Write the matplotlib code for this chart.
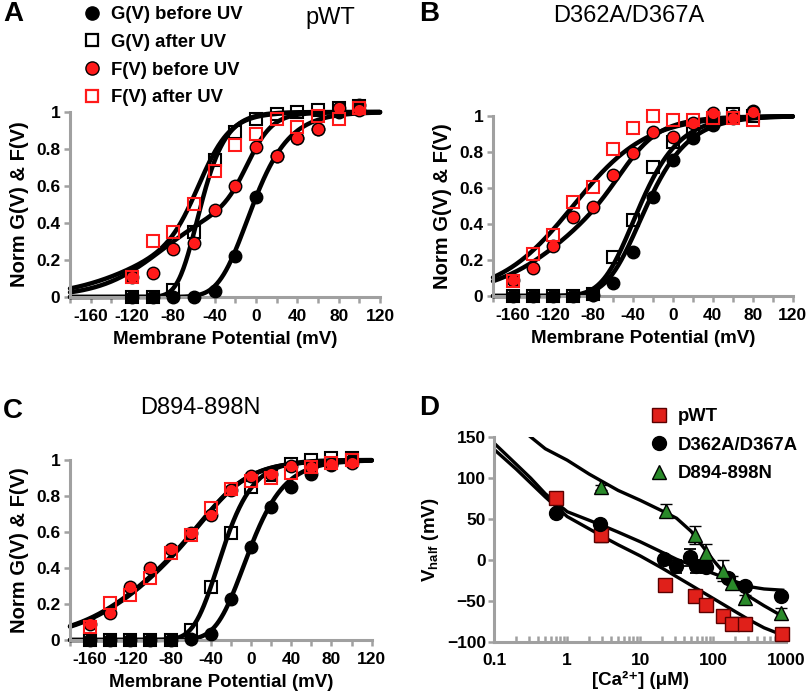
import numpy as np
import matplotlib
matplotlib.use("Agg")
import matplotlib.pyplot as plt
from matplotlib.lines import Line2D
from matplotlib.ticker import MultipleLocator, NullFormatter, LogLocator

plt.rcParams['font.family'] = ['Liberation Sans', 'DejaVu Sans']
plt.rcParams['mathtext.fontset'] = 'custom'
plt.rcParams['mathtext.rm'] = 'Liberation Sans:bold'
plt.rcParams['mathtext.bf'] = 'Liberation Sans:bold'

# ---------------- Data: panels A-C (Norm G(V) & F(V)) ----------------
V_A = [-120, -100, -80, -60, -40, -20, 0, 20, 40, 60, 80, 100]
A_G_before = [0, 0, 0, 0, 0.03, 0.22, 0.54, 0.76, 0.86, 0.91, 1.0, 1.04]
A_G_after = [0, 0, 0.04, 0.35, 0.74, 0.89, 0.96, 0.99, 1.0, 1.01, 1.02, 1.03]
A_F_before = [0.11, 0.13, 0.26, 0.29, 0.47, 0.60, 0.81, 0.76, 0.86, 0.91, 1.02, 1.01]
A_F_after = [0.11, 0.30, 0.35, 0.50, 0.68, 0.82, 0.88, 0.96, 0.92, 0.98, 0.96, 1.02]

V_B = [-160, -140, -120, -100, -80, -60, -40, -20, 0, 20, 40, 60, 80]
B_G_before = [0, 0, 0, 0, 0.005, 0.074, 0.246, 0.552, 0.756, 0.876, 0.95, 1.0, 1.03]
B_G_after = [0, 0, 0, 0, 0.01, 0.218, 0.422, 0.718, 0.857, 0.93, 0.97, 1.01, 1.0]
B_F_before = [0.089, 0.154, 0.278, 0.437, 0.493, 0.672, 0.793, 0.909, 0.885, 0.963, 1.015, 0.99, 1.024]
B_F_after = [0.085, 0.233, 0.339, 0.524, 0.607, 0.815, 0.935, 1.0, 0.98, 0.978, 0.99, 0.99, 0.98]

V_C = [-160, -140, -120, -100, -80, -60, -40, -20, 0, 20, 40, 60, 80, 100]
C_G_before = [0, 0, 0, 0, 0, 0.004, 0.033, 0.226, 0.519, 0.741, 0.852, 0.922, 0.972, 1.0]
C_G_after = [0, 0, 0, 0, 0, 0.056, 0.296, 0.593, 0.848, 0.917, 0.98, 1.0, 1.01, 1.01]
C_F_before = [0.089, 0.152, 0.293, 0.398, 0.504, 0.596, 0.694, 0.833, 0.911, 0.922, 0.967, 0.963, 0.978, 0.981]
C_F_after = [0.074, 0.207, 0.25, 0.346, 0.481, 0.583, 0.731, 0.837, 0.885, 0.898, 0.926, 0.963, 0.985, 1.0]

# Fit-curve parameters: (a, V1, k1, n, V2, k2)
# y = a * B(V; V1, k1)**n + (1 - a) * B(V; V2, k2)
A_fits = [(1, -39.4, 22, 4, 0, 1), (1, -78, 15, 4, 0, 1),
          (0.5, -92, 30, 1, -8, 12), (0.3, -120, 35, 1, -55, 15)]
B_fits = [(1, -70.1, 26.4, 4, 0, 1), (1, -74.6, 25, 4, 0, 1),
          (0.6, -110, 38, 1, -50, 18), (1, -100, 37, 1, 0, 1)]
C_fits = [(1, -38, 22, 4, 0, 1), (1, -59.6, 19, 4, 0, 1),
          (0.6, -105, 38, 1, -42, 22), (0.6, -107, 38, 1, -42, 22)]

titles = ['pWT', 'D362A/D367A', 'D894-898N']
legend_labels = ['G(V) before UV', 'G(V) after UV', 'F(V) before UV', 'F(V) after UV']
v_ticks = [-160, -120, -80, -40, 0, 40, 80, 120]

# ---------------- Data: panel D (Vhalf vs [Ca2+]) ----------------
ca_pwt = [0.70, 2.9, 22, 56, 80, 138, 180, 274, 871]
vh_pwt = [76, 30, -31, -44, -55, -69, -78, -78, -90]
err_pwt = [5, 8, 3, 3, 3, 4, 8, 3, 3]
ca_dd = [0.70, 2.8, 21, 31, 49, 58, 79, 160, 272, 865]
vh_dd = [57, 44, 1, -8, 3, -8, -9, -22, -32, -44]
err_dd = [3, 3, 3, 8, 10, 8, 7, 5, 5, 4]
ca_d894 = [2.87, 22.5, 56, 79, 137, 182, 272, 865]
vh_d894 = [89, 60, 30, 8, -13, -28, -47, -65]
err_d894 = [3, 8, 11, 11, 13, 8, 4, 6]

ca_fit = [0.1, 0.2, 0.316, 0.5, 1, 2, 3.16, 5, 10, 20, 31.6, 50, 100, 200, 316, 500, 900]
fit_pwt = [135, 111, 94, 77, 53, 38, 28, 18.5, 5, -10, -20.5, -31, -47, -63, -73.5, -83, -92]
fit_dd = [142.6, 117, 100, 81, 59, 48.5, 41.5, 34, 22.3, 9.4, 0.8, -6, -16.4, -26.2, -32.7, -35.5, -37]
ca_fit_d894 = [0.3, 0.5, 1, 2, 3.16, 5, 10, 20, 31.6, 50, 100, 150, 200, 316, 500, 900]
fit_d894 = [152, 136, 122, 105, 95, 85, 73, 60, 51, 35, 0, -18.5, -28.6, -45, -56, -69]

# ---------------- Figure ----------------
W, H = 812, 699
fig = plt.figure(figsize=(W / 100, H / 100), dpi=100)

def fpos(left, right, bottom, top):
    return [left / W, 1 - bottom / H, (right - left) / W, (bottom - top) / H]

GRAY = '#a0a0a0'
RED = '#ff1a1a'
TICK_FS = 12.5
LAB_FS = 13.5

def boltz(V, Vh, k):
    return 1.0 / (1.0 + np.exp(-(V - Vh) / k))

def fit_curve(V, p):
    a, V1, k1, n, V2, k2 = p
    return a * boltz(V, V1, k1) ** n + (1 - a) * boltz(V, V2, k2)

def style_axes(ax):
    for s in ['top', 'right']:
        ax.spines[s].set_visible(False)
    for s in ['left', 'bottom']:
        ax.spines[s].set_color(GRAY)
        ax.spines[s].set_linewidth(2.2)
    ax.tick_params(which='both', color=GRAY, width=1.8, length=4, labelsize=TICK_FS)
    for lab in ax.get_xticklabels() + ax.get_yticklabels():
        lab.set_fontweight('bold')

def gv_panel(ax, V, gb, ga, fb, fa, fits):
    Vs = np.linspace(-180, 120, 400)
    for p in fits:
        ax.plot(Vs, fit_curve(Vs, p), color='black', lw=3.2, zorder=2,
                solid_capstyle='round', clip_on=False)
    ms = 9
    ax.plot(V, gb, 'o', ms=ms, mfc='black', mec='black', mew=1, zorder=3, clip_on=False)
    ax.plot(V, ga, 's', ms=ms - 0.5, mfc='none', mec='black', mew=1.5, zorder=3, clip_on=False)
    ax.plot(V, fb, 'o', ms=ms, mfc=RED, mec='black', mew=1, zorder=4, clip_on=False)
    ax.plot(V, fa, 's', ms=ms - 0.5, mfc='none', mec=RED, mew=1.5, zorder=4, clip_on=False)
    ax.set_xlim(-180, 120)
    ax.set_ylim(0, 1)
    ax.set_yticks([0, 0.2, 0.4, 0.6, 0.8, 1.0])
    ax.set_yticklabels(['0', '0.2', '0.4', '0.6', '0.8', '1'])
    ax.set_xticks(v_ticks)
    ax.set_xticklabels([str(t) for t in v_ticks])
    ax.xaxis.set_minor_locator(MultipleLocator(20))
    style_axes(ax)
    ax.tick_params(which='both', direction='out')
    ax.tick_params(axis='x', pad=5)
    ax.tick_params(axis='y', pad=3)
    ax.set_xlabel('Membrane Potential (mV)', fontsize=LAB_FS, fontweight='bold', labelpad=5)
    ax.set_ylabel('Norm G(V) & F(V)', fontsize=14.5, fontweight='bold', labelpad=5)

axA = fig.add_axes(fpos(70, 380, 297, 112))
gv_panel(axA, V_A, A_G_before, A_G_after, A_F_before, A_F_after, A_fits)
axB = fig.add_axes(fpos(493, 792.7, 296, 116))
gv_panel(axB, V_B, B_G_before, B_G_after, B_F_before, B_F_after, B_fits)
axC = fig.add_axes(fpos(70, 371.7, 640, 460))
gv_panel(axC, V_C, C_G_before, C_G_after, C_F_before, C_F_after, C_fits)

# legend panel A
hA = [Line2D([], [], ls='none', marker='o', ms=9.5, mfc='black', mec='black'),
      Line2D([], [], ls='none', marker='s', ms=9, mfc='none', mec='black', mew=1.6),
      Line2D([], [], ls='none', marker='o', ms=9.5, mfc=RED, mec='black'),
      Line2D([], [], ls='none', marker='s', ms=9, mfc='none', mec=RED, mew=1.6)]
fig.legend(hA, legend_labels, loc='upper left', bbox_to_anchor=(74 / W, 1 + 3 / H),
           frameon=False, handlelength=1.0, handletextpad=0.5, borderpad=0,
           labelspacing=0.58, prop={'size': 13.3, 'weight': 'bold'})

# panel D
axD = fig.add_axes(fpos(494.3, 786, 641.7, 437.3))
axD.plot(ca_fit, fit_pwt, color='black', lw=2.4, zorder=2)
axD.plot(ca_fit, fit_dd, color='black', lw=2.4, zorder=2)
axD.plot(ca_fit_d894, fit_d894, color='black', lw=2.4, zorder=2)
ekw = dict(ecolor='black', elinewidth=1.3, capsize=4, capthick=1.3, ls='none', clip_on=False)
axD.errorbar(ca_pwt, vh_pwt, yerr=err_pwt, marker='s', ms=10, mfc='#e0201a', mec='#5a0000',
             mew=1, zorder=3, **ekw)
axD.errorbar(ca_dd, vh_dd, yerr=err_dd, marker='o', ms=10, mfc='black', mec='black',
             zorder=3, **ekw)
axD.errorbar(ca_d894, vh_d894, yerr=err_d894, marker='^', ms=10.5, mfc='#2a8a2a', mec='black',
             mew=1, zorder=3, **ekw)
axD.set_xscale('log')
axD.set_xlim(0.1, 1000)
axD.set_ylim(-100, 150)
axD.set_yticks([-100, -50, 0, 50, 100, 150])
axD.set_xticks([0.1, 1, 10, 100, 1000])
axD.set_xticklabels(['0.1', '1', '10', '100', '1000'])
axD.xaxis.set_minor_locator(LogLocator(base=10, subs=np.arange(2, 10)))
axD.xaxis.set_minor_formatter(NullFormatter())
style_axes(axD)
axD.tick_params(axis='x', which='both', direction='in', length=4, pad=8)
axD.tick_params(axis='y', direction='out', pad=2)
axD.set_xlabel('[Ca²⁺] (μM)', fontsize=LAB_FS, fontweight='bold', labelpad=2)
axD.set_ylabel('V$_{\\mathrm{half}}$ (mV)', fontsize=LAB_FS, fontweight='bold', labelpad=4)

hD = [Line2D([], [], ls='none', marker='s', ms=10, mfc='#e0201a', mec='#5a0000'),
      Line2D([], [], ls='none', marker='o', ms=10, mfc='black', mec='black'),
      Line2D([], [], ls='none', marker='^', ms=10.5, mfc='#2a8a2a', mec='black')]
fig.legend(hD, ['pWT', 'D362A/D367A', 'D894-898N'], loc='upper left',
           bbox_to_anchor=(641 / W, 1 - 399 / H), frameon=False, handlelength=1.0,
           handletextpad=0.5, borderpad=0, labelspacing=0.62,
           prop={'size': 13.3, 'weight': 'bold'})

# titles and panel letters
fig.text(330 / W, 1 - 18 / H, titles[0], fontsize=17, ha='center', va='center')
fig.text(629 / W, 1 - 16 / H, titles[1], fontsize=17, ha='center', va='center')
fig.text(200 / W, 1 - 408 / H, titles[2], fontsize=17, ha='center', va='center')
for letter, x, y in [('A', 3, 14), ('B', 419, 14), ('C', 3, 411), ('D', 419, 408)]:
    fig.text(x / W, 1 - y / H, letter, fontsize=20, fontweight='bold', ha='left', va='center')

fig.savefig('out.png', dpi=100)
